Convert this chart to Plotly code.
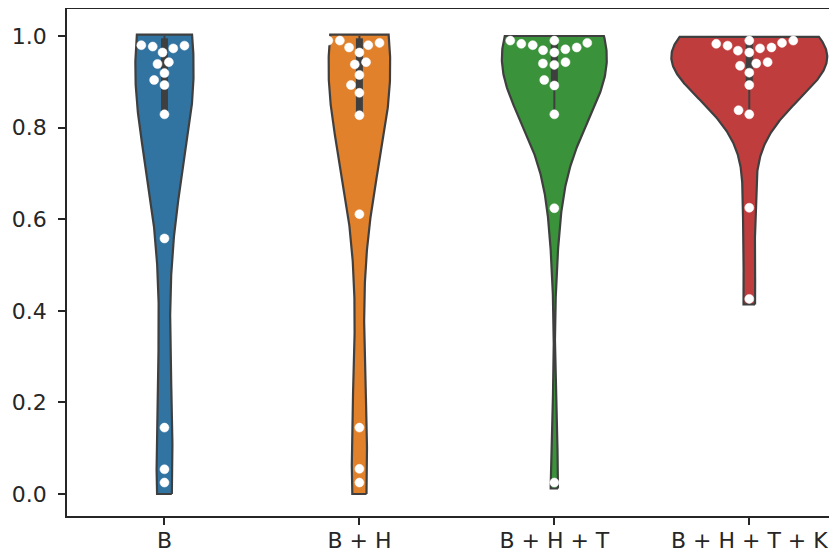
import numpy as np
import plotly.graph_objects as go

categories = ["B", "B + H", "B + H + T", "B + H + T + K"]

vals_b = [0.025, 0.054, 0.145, 0.558, 0.829, 0.893, 0.904, 0.919, 0.939, 0.943,
          0.964, 0.973, 0.977, 0.979, 0.980]
vals_bh = [0.025, 0.055, 0.145, 0.611, 0.827, 0.876, 0.893, 0.915, 0.938, 0.943,
           0.964, 0.975, 0.980, 0.985, 0.990, 0.990]
vals_bht = [0.025, 0.624, 0.829, 0.892, 0.904, 0.937, 0.940, 0.943, 0.964, 0.969,
            0.971, 0.975, 0.980, 0.983, 0.985, 0.990, 0.990]
vals_bhtk = [0.426, 0.625, 0.829, 0.838, 0.893, 0.920, 0.935, 0.940, 0.943, 0.964,
             0.968, 0.973, 0.975, 0.979, 0.983, 0.985, 0.990, 0.990]
series = [vals_b, vals_bh, vals_bht, vals_bhtk]

# violin extent (data range)
violin_bottom = [0.0, 0.0, 0.012, 0.414]
violin_top = [1.003, 1.003, 1.0, 0.998]

# inner box statistics
box_q1 = [0.83, 0.83, 0.89, 0.89]
box_q3 = [0.995, 0.995, 0.995, 0.995]
whisk_lo = [0.83, 0.83, 0.83, 0.83]
whisk_hi = [1.0, 1.0, 1.0, 1.0]

colors = ["#3274A1", "#E1812C", "#3A923A", "#C03D3E"]
edge = "#3f3f3f"
BW_ADJUST = 1.0
VIOLIN_WIDTH = 0.8

# geometry for swarm layout (pixels per data unit)
PX_X = 195.0
PX_Y = 458.0
DIAM = 11.5


def swarm_offsets(values):
    order = np.argsort(values, kind="stable")
    placed = []
    offs = np.zeros(len(values))
    for idx in order:
        y = values[idx] * PX_Y
        cands = [0.0]
        for (px, py) in placed:
            dy = abs(py - y)
            if dy < DIAM:
                dx = np.sqrt(DIAM ** 2 - dy ** 2)
                cands += [px + dx, px - dx]
        cands = sorted(cands, key=lambda c: (abs(c), c))
        chosen = cands[-1]
        for c in cands:
            ok = True
            for (px, py) in placed:
                if (px - c) ** 2 + (py - y) ** 2 < DIAM ** 2 - 1e-6:
                    ok = False
                    break
            if ok:
                chosen = c
                break
        placed.append((chosen, y))
        offs[idx] = chosen / PX_X
    return offs


def kde(values, grid):
    v = np.asarray(values)
    h = np.std(v, ddof=1) * len(v) ** (-0.2) * BW_ADJUST
    z = (grid[:, None] - v[None, :]) / h
    return np.exp(-0.5 * z ** 2).sum(axis=1) / (len(v) * h * np.sqrt(2 * np.pi))


grids, dens = [], []
for i, vals in enumerate(series):
    g = np.linspace(violin_bottom[i], violin_top[i], 300)
    grids.append(g)
    dens.append(kde(vals, g))
gmax = max(d.max() for d in dens)

fig = go.Figure()

for i in range(len(series)):
    hw = dens[i] / gmax * VIOLIN_WIDTH / 2
    g = grids[i]
    xs = np.concatenate([i + hw, (i - hw)[::-1], [i + hw[0]]])
    ys = np.concatenate([g, g[::-1], [g[0]]])
    fig.add_trace(go.Scatter(
        x=xs, y=ys, mode="lines", fill="toself", fillcolor=colors[i],
        line=dict(color=edge, width=2.2), showlegend=False, hoverinfo="skip"))

for i in range(len(series)):
    fig.add_trace(go.Scatter(
        x=[i, i], y=[whisk_lo[i], whisk_hi[i]], mode="lines",
        line=dict(color=edge, width=2), showlegend=False, hoverinfo="skip"))
    fig.add_trace(go.Scatter(
        x=[i, i], y=[box_q1[i], box_q3[i]], mode="lines",
        line=dict(color=edge, width=7), showlegend=False, hoverinfo="skip"))

for i, vals in enumerate(series):
    v = np.array(vals)
    offs = swarm_offsets(v)
    fig.add_trace(go.Scatter(
        x=i + offs, y=v, mode="markers",
        marker=dict(color="white", size=9, line=dict(color="white", width=0.5)),
        showlegend=False, hoverinfo="skip"))

axis_col = "#262626"
# the page body adds an 8px margin, so the figure is sized to fit the window
fig.update_layout(
    width=829, height=546,
    margin=dict(l=59, r=0, t=1, b=38, autoexpand=False),
    paper_bgcolor="white", plot_bgcolor="white",
    font=dict(family="DejaVu Sans", size=22, color=axis_col),
)
fig.update_xaxes(
    range=[-0.5, 3.45], tickvals=list(range(len(categories))), ticktext=categories,
    showgrid=False, zeroline=False, showline=True, linecolor=axis_col, linewidth=1.5,
    mirror=True, ticks="outside", ticklen=7, tickwidth=1.5, tickcolor=axis_col,
    tickfont=dict(size=22), automargin=False, ticklabelstandoff=-3,
)
fig.update_yaxes(
    range=[-0.048, 1.059], tickvals=[0, 0.2, 0.4, 0.6, 0.8, 1.0],
    ticktext=["0.0", "0.2", "0.4", "0.6", "0.8", "1.0"],
    showgrid=False, zeroline=False, showline=True, linecolor=axis_col, linewidth=1.5,
    ticks="outside", ticklen=7, tickwidth=1.5, tickcolor=axis_col,
    tickfont=dict(size=22), automargin=False, ticklabelstandoff=7,
)

fig.write_html("out.html")
